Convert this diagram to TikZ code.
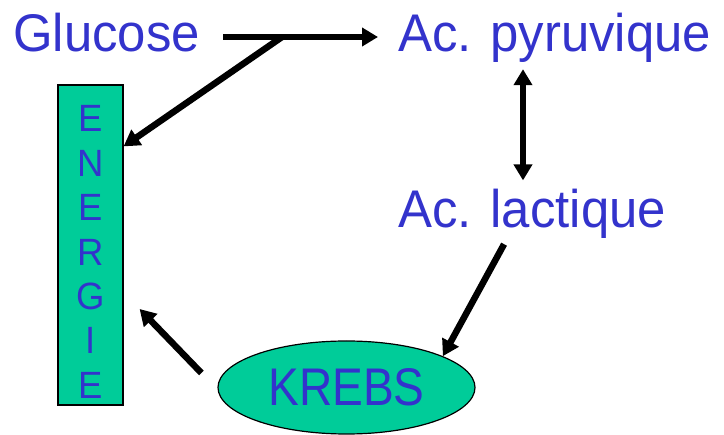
\documentclass[tikz,border=0pt]{standalone}
\usepackage{fontspec}
\setmainfont[FakeStretch=0.96]{Liberation Sans}
\newfontfamily\capsfont[FakeStretch=0.87]{Liberation Sans}
\usetikzlibrary{arrows.meta,shapes.geometric}
\definecolor{molblue}{HTML}{3333CC}
\definecolor{cyclegreen}{HTML}{00CC99}
\begin{document}
\begin{tikzpicture}[x=1pt,y=-1pt,
    mol/.style={anchor=base west,inner sep=0pt,text=molblue,font=\fontsize{53}{60}\selectfont},
    flow/.style={line width=6.5pt,-{Triangle[length=16pt,width=18pt]}},
    bothways/.style={line width=6.5pt,{Triangle[length=16pt,width=18pt]}-{Triangle[length=16pt,width=18pt]}}]
  \useasboundingbox (0,0) rectangle (724,435);
  \node[mol] (glucose) at (13,52) {Glucose};
  \node[mol] (pyruvique) at (398,52) {Ac. pyruvique};
  \node[mol] (lactique) at (398,228) {Ac. lactique};
  \node[draw,line width=1.2pt,fill=cyclegreen,minimum width=65pt,minimum height=320pt,inner sep=0pt] (energie) at (90.5,245) {};
  \foreach \l [count=\i] in {E,N,E,R,G,I,E}
    \node[anchor=base,inner sep=0pt,text=molblue,font=\fontsize{38}{40}\selectfont] (letter\i) at (90.5,{132+44.4*(\i-1)}) {\l};
  \node[ellipse,draw,line width=1.2pt,fill=cyclegreen,minimum width=257pt,minimum height=93pt,inner sep=0pt,text=molblue,font=\capsfont\fontsize{53}{60}\selectfont] (krebs) at (346.5,387.5) {KREBS};
  \coordinate (fork) at (282,37);
  \coordinate (axis) at (523,0);
  \draw[flow] ([xshift=23pt]glucose.east |- fork) -- ([xshift=-20pt]pyruvique.west |- fork);
  \draw[flow] (fork) -- ([yshift=-62pt]energie.north east);
  \draw[bothways] (axis |- pyruvique.south) ++(0,6) -- ([yshift=9pt]axis |- lactique.north);
  \draw[flow] ([xshift=-28pt,yshift=-5pt]lactique.south) -- (krebs.18);
  \draw[flow] ([xshift=-16pt,yshift=14.5pt]krebs.west) -- ([xshift=16pt,yshift=-64pt]energie.east);
\end{tikzpicture}
\end{document}
